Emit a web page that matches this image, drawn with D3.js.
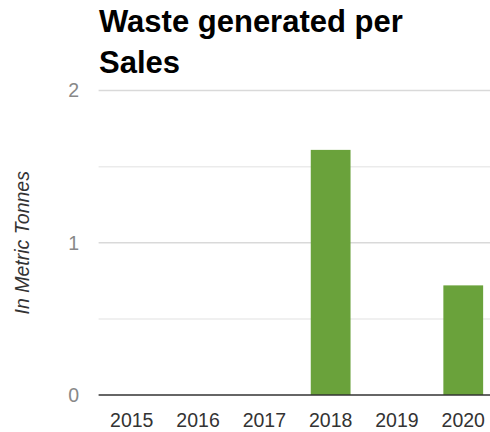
<!DOCTYPE html>
<html>
<head>
<meta charset="utf-8">
<script src="https://cdn.jsdelivr.net/npm/d3@7"></script>
<style>
  html, body { margin: 0; padding: 0; background: #fff; }
  svg { display: block; font-family: Arial, "Liberation Sans", sans-serif; }
</style>
</head>
<body>
<svg id="chart" width="490" height="432"></svg>
<script>
const titleLines = ["Waste generated per", "Sales"];
const categories = ["2015", "2016", "2017", "2018", "2019", "2020"];
const values = [0, 0, 0, 1.61, 0, 0.72];
const majorTicks = [0, 1, 2];
const minorTicks = [0.5, 1.5];
const yAxisTitle = "In Metric Tonnes";

(function () {
const svg = d3.select("#chart");
const pLeft = 98.6, pRight = 496.4, pTop = 90.5, pBottom = 395;

const x = d3.scaleBand().domain(categories).range([pLeft, pRight]).paddingInner(0.4).paddingOuter(0.2);
const y = d3.scaleLinear().domain([0, 2]).range([pBottom, pTop]);

// title
svg.append("g").selectAll("text").data(titleLines).join("text")
  .attr("x", 99).attr("y", (d, i) => 32 + i * 41)
  .attr("font-size", 31).attr("font-weight", "bold").attr("fill", "#000")
  .text(d => d);

// minor gridlines
svg.append("g").selectAll("line").data(minorTicks).join("line")
  .attr("x1", pLeft).attr("x2", 490)
  .attr("y1", d => y(d)).attr("y2", d => y(d))
  .attr("stroke", "#ebebeb").attr("stroke-width", 1.5);

// major gridlines
svg.append("g").selectAll("line").data(majorTicks.filter(d => d !== 0)).join("line")
  .attr("x1", pLeft).attr("x2", 490)
  .attr("y1", d => y(d)).attr("y2", d => y(d))
  .attr("stroke", "#d9d9d9").attr("stroke-width", 1.5);

// y axis labels
const yAxis = d3.axisLeft(y).tickValues(majorTicks).tickFormat(d3.format("d")).tickSize(0).tickPadding(0);
const gy = svg.append("g").attr("transform", `translate(79,0)`).call(yAxis);
gy.select(".domain").remove();
gy.selectAll("text").attr("font-size", 19.5).attr("fill", "#888").attr("font-family", "Arial, 'Liberation Sans', sans-serif");

// bars
svg.append("g").selectAll("rect").data(categories.map((c, i) => ({c, v: values[i]}))).join("rect")
  .attr("x", d => x(d.c)).attr("width", x.bandwidth())
  .attr("y", d => y(d.v)).attr("height", d => y(0) - y(d.v))
  .attr("fill", "#6aa23b");

// baseline
svg.append("line").attr("x1", pLeft).attr("x2", 490)
  .attr("y1", y(0)).attr("y2", y(0)).attr("stroke", "#333").attr("stroke-width", 1.5);

// x axis labels
const xAxis = d3.axisBottom(x).tickSize(0).tickPadding(0);
const gx = svg.append("g").attr("transform", `translate(0,${pBottom})`).call(xAxis);
gx.select(".domain").remove();
gx.selectAll("text").attr("font-size", 19.5).attr("fill", "#333").attr("dy", null)
  .attr("y", 32).attr("font-family", "Arial, 'Liberation Sans', sans-serif");

// y axis title
svg.append("text").attr("transform", `translate(29,${(pTop + pBottom) / 2}) rotate(-90)`)
  .attr("text-anchor", "middle").attr("font-size", 19.5).attr("font-style", "italic")
  .attr("fill", "#333").text(yAxisTitle);
})();
</script>
</body>
</html>
